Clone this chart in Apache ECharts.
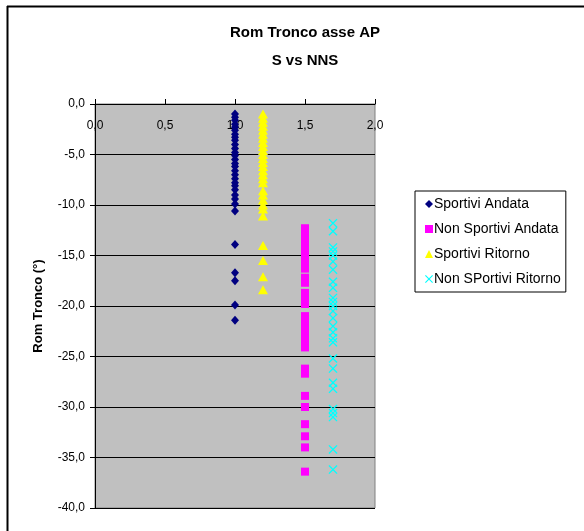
<!DOCTYPE html>
<html><head><meta charset="utf-8">
<script src="https://cdn.jsdelivr.net/npm/echarts@6/dist/echarts.min.js"></script>
<style>html,body{margin:0;padding:0;background:#fff}#c{width:584px;height:531px}</style>
</head><body><div id="c"></div>
<script>
const seriesNames = ['Sportivi Andata','Non Sportivi Andata','Sportivi Ritorno','Non SPortivi Ritorno'];
const xPositions = [1.0, 1.5, 1.2, 1.7];
const sportiviAndata = [-1.0,-1.3,-1.6,-2.0,-2.3,-2.6,-3.0,-3.3,-3.6,-4.0,-4.4,-4.8,-5.1,-5.5,-5.9,-6.2,-6.6,-7.0,-7.4,-7.8,-8.1,-8.5,-9.0,-9.4,-9.9,-10.6,-13.9,-16.7,-17.5,-19.9,-21.4];
const nonSportiviAndata = [-12.3,-12.8,-13.3,-13.8,-14.3,-14.8,-15.3,-15.8,-16.3,-17.2,-17.7,-18.7,-19.2,-19.8,-21.0,-21.5,-22.0,-22.5,-23.0,-23.5,-24.1,-26.2,-26.7,-28.9,-30.0,-31.7,-32.9,-34.0,-36.4];
const sportiviRitorno = [-1.0,-1.4,-1.8,-2.2,-2.6,-3.0,-3.4,-3.8,-4.2,-4.6,-5.0,-5.4,-5.8,-6.2,-6.6,-7.0,-7.4,-7.8,-8.6,-9.0,-9.5,-10.0,-10.4,-11.1,-14.0,-15.5,-17.1,-18.4];
const nonSportiviRitorno = [-11.8,-12.6,-14.2,-14.6,-15.0,-15.6,-16.4,-17.6,-18.2,-19.2,-19.6,-20.0,-20.5,-21.2,-22.0,-22.6,-23.2,-23.6,-25.2,-26.2,-27.6,-28.2,-30.2,-30.6,-31.0,-34.2,-36.2];
const xTicks = [0, 0.5, 1.0, 1.5, 2.0];
const yTicks = [0,-5,-10,-15,-20,-25,-30,-35,-40];

const fmt = v => v.toFixed(1).replace('.', ',');
const FONT = 'Liberation Sans, Arial, sans-serif';
const crossPath = 'path://M0,1L1,0L5,4L9,0L10,1L6,5L10,9L9,10L5,6L1,10L0,9L4,5Z';

const vals = [sportiviAndata, nonSportiviAndata, sportiviRitorno, nonSportiviRitorno];
const styles = [
  {symbol:'diamond', size:[8,9], color:'#000080'},
  {symbol:'rect', size:8, color:'#FF00FF'},
  {symbol:'triangle', size:[10,9], color:'#FFFF00'},
  {symbol:crossPath, size:9, color:'#00FFFF'}
];
const series = seriesNames.map((n,i)=>({
  name:n, type:'scatter',
  data: vals[i].map(v=>[xPositions[i], v]),
  symbol: styles[i].symbol, symbolSize: styles[i].size,
  itemStyle:{color:styles[i].color, opacity:1},
  emphasis:{disabled:true}, z: 3
}));

const chart = echarts.init(document.getElementById('c'), null, {renderer:'canvas'});
chart.setOption({
  animation:false,
  backgroundColor:'#fff',
  title:{
    text:'Rom Tronco asse AP\nS vs NNS',
    left:300, top:14, textAlign:'center',
    textStyle:{fontFamily:FONT, fontSize:15, fontWeight:'bold', color:'#000', lineHeight:28}
  },
  grid:{left:95, top:104, width:280, height:404, show:true, backgroundColor:'#C0C0C0', borderColor:'#808080', borderWidth:1},
  legend:{
    orient:'vertical', left:415, top:191,
    backgroundColor:'#fff', borderColor:'#000', borderWidth:1,
    padding:[6,5,6,10], itemGap:11, itemWidth:8, itemHeight:8,
    textStyle:{fontFamily:FONT, fontSize:14, color:'#000', lineHeight:14, padding:[0,0,0,-4]},
    data: seriesNames
  },
  xAxis:{
    type:'value', position:'top', min:0, max:2, interval:0.5,
    axisLine:{show:true, onZero:false, lineStyle:{color:'#000', width:1}},
    axisTick:{show:true, inside:false, length:5, lineStyle:{color:'#000'}},
    axisLabel:{inside:true, margin:16, formatter:fmt, fontFamily:FONT, fontSize:12, color:'#000'},
    splitLine:{show:false}
  },
  yAxis:{
    type:'value', min:-40, max:0, interval:5,
    name:'Rom Tronco (°)', nameLocation:'middle', nameGap:50, nameRotate:90,
    nameTextStyle:{fontFamily:FONT, fontSize:13, fontWeight:'bold', color:'#000'},
    axisLine:{show:true, onZero:false, lineStyle:{color:'#000', width:1}},
    axisTick:{show:true, inside:false, length:5, lineStyle:{color:'#000'}},
    axisLabel:{formatter:fmt, fontFamily:FONT, fontSize:12, color:'#000', margin:10},
    splitLine:{show:true, lineStyle:{color:'#000', width:1}}
  },
  graphic:[
    {type:'line', shape:{x1:7, y1:6.5, x2:584, y2:6.5}, style:{stroke:'#000', lineWidth:2}},
    {type:'line', shape:{x1:7.5, y1:6, x2:7.5, y2:531}, style:{stroke:'#000', lineWidth:2}}
  ],
  series: series
});
</script></body></html>
